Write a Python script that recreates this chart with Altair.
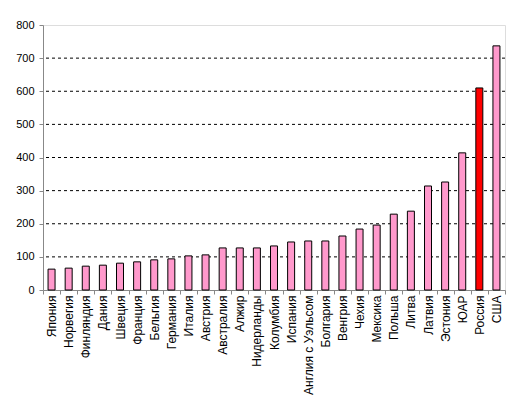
import altair as alt
import pandas as pd

countries = ["Япония", "Норвегия", "Финляндия", "Дания", "Швеция", "Франция",
             "Бельгия", "Германия", "Италия", "Австрия", "Австралия", "Алжир",
             "Нидерланды", "Колумбия", "Испания", "Англия с Уэльсом", "Болгария",
             "Венгрия", "Чехия", "Мексика", "Польша", "Литва", "Латвия",
             "Эстония", "ЮАР", "Россия", "США"]
values = [63, 66, 72, 75, 81, 85, 91, 94, 103, 106, 127, 127, 127, 133, 145,
          148, 148, 163, 184, 196, 229, 238, 314, 326, 414, 610, 737]
highlight = ["Россия"]
grid_values = [100, 200, 300, 400, 500, 600, 700]
y_ticks = [0, 100, 200, 300, 400, 500, 600, 700, 800]

df = pd.DataFrame({"country": countries, "value": values})
df["hl"] = df["country"].isin(highlight)
grid_df = pd.DataFrame({"g": grid_values})

yscale = alt.Scale(domain=[0, 800], nice=False)
y_axis = alt.Axis(values=y_ticks, labelPadding=5, labelFont="Liberation Sans",
                  labelFontSize=11, labelFlush=False, labelOverlap=False,
                  tickSize=4, grid=False)

grid = alt.Chart(grid_df).mark_rule(color="black", strokeDash=[3, 3], strokeWidth=1).encode(
    y=alt.Y("g:Q", scale=yscale, axis=y_axis, title=None)
)

bars = alt.Chart(df).mark_bar(size=7, stroke="black", strokeWidth=1).encode(
    x=alt.X("country:N", sort=None, title=None,
            scale=alt.Scale(paddingInner=0, paddingOuter=0),
            axis=alt.Axis(labelAngle=270, tickBand="extent", labelPadding=1,
                          labelFont="Liberation Sans", labelFontSize=12,
                          labelOverlap=False, tickSize=4, grid=False)),
    y=alt.Y("value:Q", scale=yscale, title=None, axis=y_axis),
    color=alt.condition(alt.datum.hl, alt.value("#FF0000"), alt.value("#FF99CC")),
)

chart = alt.layer(grid, bars).properties(
    width=462, height=265,
    autosize=alt.AutoSizeParams(type="none"),
    padding={"left": 35, "top": 17, "right": 7, "bottom": 110},
).configure_view(
    stroke="#808080", strokeWidth=1
).configure_axis(
    tickColor="black", domainColor="black", labelColor="black"
).configure(background="white")

chart.save("out.html", embed_options={"renderer": "svg", "actions": False})
